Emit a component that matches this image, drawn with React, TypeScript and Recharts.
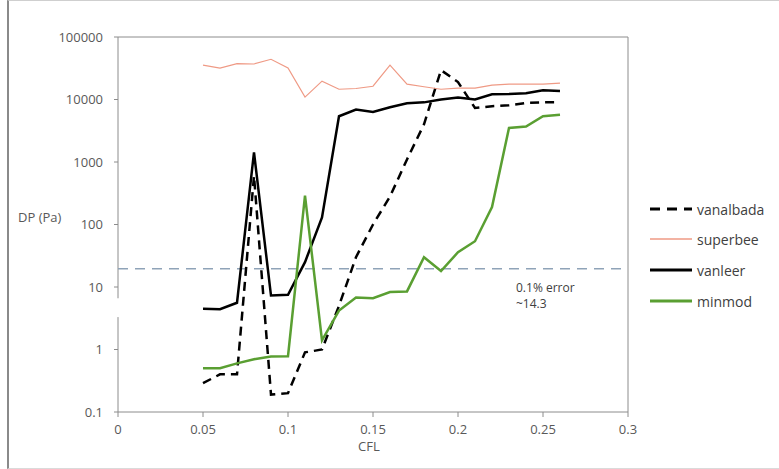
import { LineChart, Line, XAxis, YAxis, ReferenceLine } from "recharts";

const cfl = [
  0.05, 0.06, 0.07, 0.08, 0.09, 0.1, 0.11, 0.12, 0.13, 0.14, 0.15, 0.16, 0.17,
  0.18, 0.19, 0.2, 0.21, 0.22, 0.23, 0.24, 0.25, 0.26,
];
const vanalbada = [
  0.29, 0.4, 0.4, 600, 0.19, 0.2, 0.9, 1.0, 5, 30, 100, 280, 1100, 4000, 29500,
  19000, 7300, 7800, 8100, 8800, 9000, 9000,
];
const superbee = [
  35500, 31800, 37500, 37000, 44000, 32000, 10900, 19700, 14600, 15000, 16300,
  35500, 17600, 16000, 14600, 15200, 15200, 17000, 17600, 17600, 17600, 18300,
];
const vanleer = [
  4.5, 4.4, 5.6, 1420, 7.3, 7.5, 25, 130, 5400, 6900, 6300, 7500, 8700, 9000,
  10000, 10800, 10000, 12100, 12200, 12600, 14100, 13700,
];
const minmod = [
  0.5, 0.5, 0.6, 0.7, 0.77, 0.78, 290, 1.4, 4.2, 6.8, 6.6, 8.3, 8.5, 30, 18, 36,
  54, 190, 3500, 3700, 5400, 5700,
];

const xTicks = [0, 0.05, 0.1, 0.15, 0.2, 0.25, 0.3];
const yTicks = [0.1, 1, 10, 100, 1000, 10000, 100000];
const errorLevel = 19.5;

const data = cfl.map((x, i) => ({
  cfl: x,
  vanalbada: vanalbada[i],
  superbee: superbee[i],
  vanleer: vanleer[i],
  minmod: minmod[i],
}));

const FONT = "'Open Sans', 'DejaVu Sans', sans-serif";
const AXIS = "#8c8c8c";
const TEXT = "#595959";

const series = [
  { key: "vanalbada", color: "#000", width: 2.5, dash: "9 6" },
  { key: "superbee", color: "#ef9a85", width: 1.2, dash: undefined },
  { key: "vanleer", color: "#000", width: 2.5, dash: undefined },
  { key: "minmod", color: "#5a9f32", width: 2.5, dash: undefined },
];

function LegendBox() {
  const rows = [209, 239, 270, 301];
  return (
    <div style={{ position: "absolute", left: 648, top: 0 }}>
      {series.map((s, i) => (
        <div
          key={s.key}
          style={{
            position: "absolute",
            top: rows[i] - 10,
            left: 0,
            display: "flex",
            alignItems: "center",
            height: 20,
            whiteSpace: "nowrap",
          }}
        >
          <svg width={46} height={20}>
            <line
              x1={2}
              y1={10}
              x2={44}
              y2={10}
              stroke={s.color}
              strokeWidth={s.key === "superbee" ? 1.5 : 3}
              strokeDasharray={s.dash ? "10 7" : undefined}
            />
          </svg>
          <span style={{ fontSize: 14, color: "#404040", marginLeft: 3 }}>
            {s.key}
          </span>
        </div>
      ))}
    </div>
  );
}

export default function App() {
  return (
    <div
      style={{
        position: "absolute",
        left: 0,
        top: 0,
        width: 779,
        height: 469,
        background: "#fff",
        fontFamily: FONT,
      }}
    >
      <div
        style={{
          position: "absolute",
          left: 7,
          top: 0,
          width: 772,
          height: 467,
          borderLeft: "2px solid #8a8a8a",
          borderTop: "1px solid #cfcfcf",
          borderBottom: "1px solid #dadada",
        }}
      />
      <LineChart
        width={779}
        height={469}
        data={data}
        margin={{ top: 37, right: 151, left: 58, bottom: 27 }}
        style={{ position: "absolute", left: 0, top: 0 }}
      >
        <XAxis
          dataKey="cfl"
          type="number"
          domain={[0, 0.3]}
          ticks={xTicks}
          height={30}
          axisLine={{ stroke: AXIS }}
          tickLine={{ stroke: AXIS }}
          tickSize={5}
          tickMargin={8}
          tick={{ fill: TEXT, fontSize: 13, fontFamily: FONT }}
        />
        <YAxis
          scale="log"
          type="number"
          domain={[0.1, 100000]}
          ticks={yTicks}
          allowDataOverflow
          width={60}
          axisLine={false}
          tickLine={{ stroke: AXIS }}
          tickSize={4}
          tickMargin={11}
          tick={{ fill: TEXT, fontSize: 13, fontFamily: FONT }}
        />
        <ReferenceLine
          segment={[
            { x: 0, y: 0.1 },
            { x: 0, y: 3.3 },
          ]}
          stroke={AXIS}
        />
        <ReferenceLine
          segment={[
            { x: 0, y: 6.6 },
            { x: 0, y: 100000 },
          ]}
          stroke={AXIS}
        />
        <ReferenceLine y={100000} stroke={AXIS} />
        <ReferenceLine x={0.3} stroke={AXIS} />
        <ReferenceLine
          y={errorLevel}
          stroke="#8fa3b8"
          strokeWidth={1.5}
          strokeDasharray="10 7"
        />
        {series.map((s) => (
          <Line
            key={s.key}
            type="linear"
            dataKey={s.key}
            stroke={s.color}
            strokeWidth={s.width}
            strokeDasharray={s.dash}
            dot={false}
            activeDot={false}
            isAnimationActive={false}
          />
        ))}
      </LineChart>
      <div
        style={{
          position: "absolute",
          left: 18,
          top: 208,
          fontSize: 13,
          color: TEXT,
        }}
      >
        DP (Pa)
      </div>
      <div
        style={{
          position: "absolute",
          left: 358,
          top: 437,
          fontSize: 13,
          color: TEXT,
        }}
      >
        CFL
      </div>
      <div
        style={{
          position: "absolute",
          left: 516,
          top: 280,
          fontSize: 12,
          lineHeight: "16px",
          color: "#404040",
        }}
      >
        0.1% error
        <br />
        ~14.3
      </div>
      <LegendBox />
    </div>
  );
}
